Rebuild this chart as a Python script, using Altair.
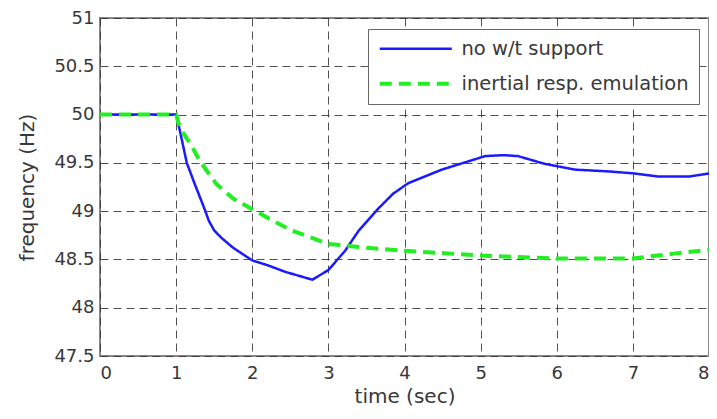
import altair as alt
import pandas as pd

blue_t = [0, 1.0, 1.05, 1.14, 1.25, 1.36, 1.43, 1.50, 1.60, 1.75, 2.0, 2.2, 2.44, 2.79, 3.0, 3.22, 3.40,
          3.66, 3.85, 4.05, 4.49, 5.06, 5.3, 5.49, 5.84, 6.24, 6.71, 7.02, 7.32, 7.75, 8.0]
blue_f = [50, 50, 49.83, 49.5, 49.27, 49.05, 48.90, 48.80, 48.72, 48.62, 48.49, 48.44, 48.37, 48.29, 48.39,
          48.59, 48.80, 49.03, 49.18, 49.29, 49.43, 49.57, 49.58, 49.57, 49.49, 49.43, 49.41, 49.39,
          49.36, 49.36, 49.39]
green_t = [0, 1.0, 1.05, 1.2, 1.31, 1.53, 1.75, 2.0, 2.25, 2.52, 3.0, 3.27, 3.5, 4.0, 5.0, 6.0, 7.0, 7.54, 8.0]
green_f = [50, 50, 49.86, 49.68, 49.52, 49.28, 49.13, 49.02, 48.91, 48.80, 48.66, 48.64, 48.62,
           48.59, 48.54, 48.51, 48.51, 48.56, 48.60]
series = ["no w/t support", "inertial resp. emulation"]
x_ticks = [0, 1, 2, 3, 4, 5, 6, 7, 8]
y_ticks = [47.5, 48, 48.5, 49, 49.5, 50, 50.5, 51]

df = pd.concat([
    pd.DataFrame({"t": blue_t, "f": blue_f, "s": series[0], "o": range(len(blue_t))}),
    pd.DataFrame({"t": green_t, "f": green_f, "s": series[1], "o": range(len(green_t))}),
])

FONT = "DejaVu Sans"
TXT = "#383838"

chart = alt.Chart(df).mark_line(strokeCap="butt").encode(
    x=alt.X("t:Q", scale=alt.Scale(domain=[0, 8], nice=False),
            axis=alt.Axis(values=x_ticks, title="time (sec)", format="d")),
    y=alt.Y("f:Q", scale=alt.Scale(domain=[47.5, 51], nice=False, zero=False),
            axis=alt.Axis(values=y_ticks, title="frequency (Hz)", format="~g")),
    order="o:Q",
    color=alt.Color("s:N", scale=alt.Scale(domain=series, range=["#1a1aff", "#22ee22"]),
                    legend=alt.Legend(title=None, orient="none", legendX=268, legendY=11,
                                      strokeColor="#666", fillColor="white", padding=10,
                                      symbolType="M-1.33,0H10.67", symbolSize=144, symbolStrokeWidth=4,
                                      labelOffset=64, rowPadding=14, labelFontSize=19.5, labelLimit=400,
                                      labelFont=FONT, labelColor=TXT)),
    strokeDash=alt.StrokeDash("s:N", scale=alt.Scale(domain=series, range=[[1, 0], [12, 7]]),
                              legend=None),
    strokeWidth=alt.StrokeWidth("s:N", scale=alt.Scale(domain=series, range=[2.5, 4]), legend=None),
).properties(
    width=609, height=338,
    padding={"left": 92, "top": 10, "right": 0, "bottom": 55},
    autosize=alt.AutoSizeParams(type="none"),
).configure_view(
    stroke="#888", strokeWidth=2
).configure_axis(
    grid=True, gridColor="#333", gridDash=[8, 5], gridOpacity=0.85, gridWidth=1,
    domain=False, ticks=False,
    labelFont=FONT, labelFontSize=18, labelColor=TXT,
    titleFont=FONT, titleFontSize=20, titleColor=TXT, titleFontWeight="normal",
).configure_axisY(labelPadding=6, titlePadding=16).configure_axisX(labelPadding=8, titlePadding=4)

chart.save("out.html", embed_options={"renderer": "svg", "actions": False})
